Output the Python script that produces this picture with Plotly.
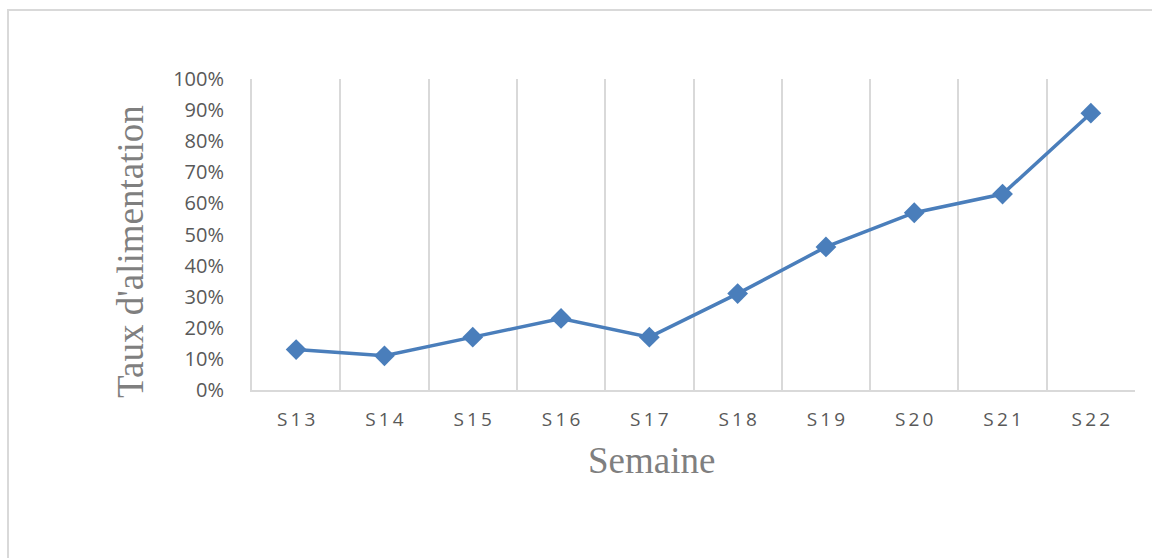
import plotly.graph_objects as go

# Weekly feeding rate
semaines = ["S13", "S14", "S15", "S16", "S17", "S18", "S19", "S20", "S21", "S22"]
taux = [0.13, 0.11, 0.17, 0.23, 0.17, 0.31, 0.46, 0.57, 0.63, 0.89]
y_ticks = [0.0, 0.1, 0.2, 0.3, 0.4, 0.5, 0.6, 0.7, 0.8, 0.9, 1.0]

# Spaced-out week labels for the category axis
tick_text = ["\u2009".join(s) for s in semaines]

W, H = 1152, 558
L, R, T, B = 252, 17, 79, 168
pw, ph = W - L - R, H - T - B

fig = go.Figure()
fig.add_trace(go.Scatter(
    x=semaines, y=taux, mode="lines+markers",
    line=dict(color="#4A7EBB", width=3.5),
    marker=dict(symbol="diamond", size=16, color="#4A7EBB"),
    hoverinfo="x+y",
))

grid = "#D9D9D9"
tick_font = dict(family="Open Sans", size=19, color="#595959")
title_font = dict(family="Liberation Serif", size=37, color="#7F7F7F")

fig.update_layout(
    width=W, height=H,
    margin=dict(l=L, r=R, t=T, b=B, autoexpand=False),
    paper_bgcolor="white", plot_bgcolor="white",
    showlegend=False,
    xaxis=dict(
        type="category", range=[-0.5, 9.5],
        tickvals=semaines, ticktext=tick_text,
        tickson="boundaries", showgrid=True, gridcolor=grid, gridwidth=2,
        showline=True, linecolor=grid, linewidth=2,
        ticks="", ticklabelstandoff=11,
        tickfont=tick_font, zeroline=False,
    ),
    yaxis=dict(
        range=[0, 1], tickvals=y_ticks, tickformat=".0%",
        showgrid=False, zeroline=False,
        showline=True, linecolor=grid, linewidth=2,
        ticks="", ticklabelstandoff=22,
        tickfont=dict(family="Open Sans", size=20, color="#595959"),
    ),
)

# Axis titles
fig.add_annotation(text="Semaine", xref="paper", yref="paper",
                   x=(651 - L) / pw, y=(H - B - 460) / ph,
                   xanchor="center", yanchor="middle", showarrow=False,
                   font=title_font)
fig.add_annotation(text="Taux d'alimentation", xref="paper", yref="paper",
                   x=(130 - L) / pw, y=(H - B - 252) / ph, textangle=-90,
                   xanchor="center", yanchor="middle", showarrow=False,
                   font=title_font)

# Chart-area frame
fig.add_shape(type="rect", xref="paper", yref="paper",
              x0=(8 - L) / pw, x1=(W + 20 - L) / pw,
              y0=-(H + 20 - T - ph) / ph, y1=(H - B - 10) / ph,
              line=dict(color=grid, width=2), fillcolor="rgba(0,0,0,0)", layer="below")

fig.write_html("out.html")
